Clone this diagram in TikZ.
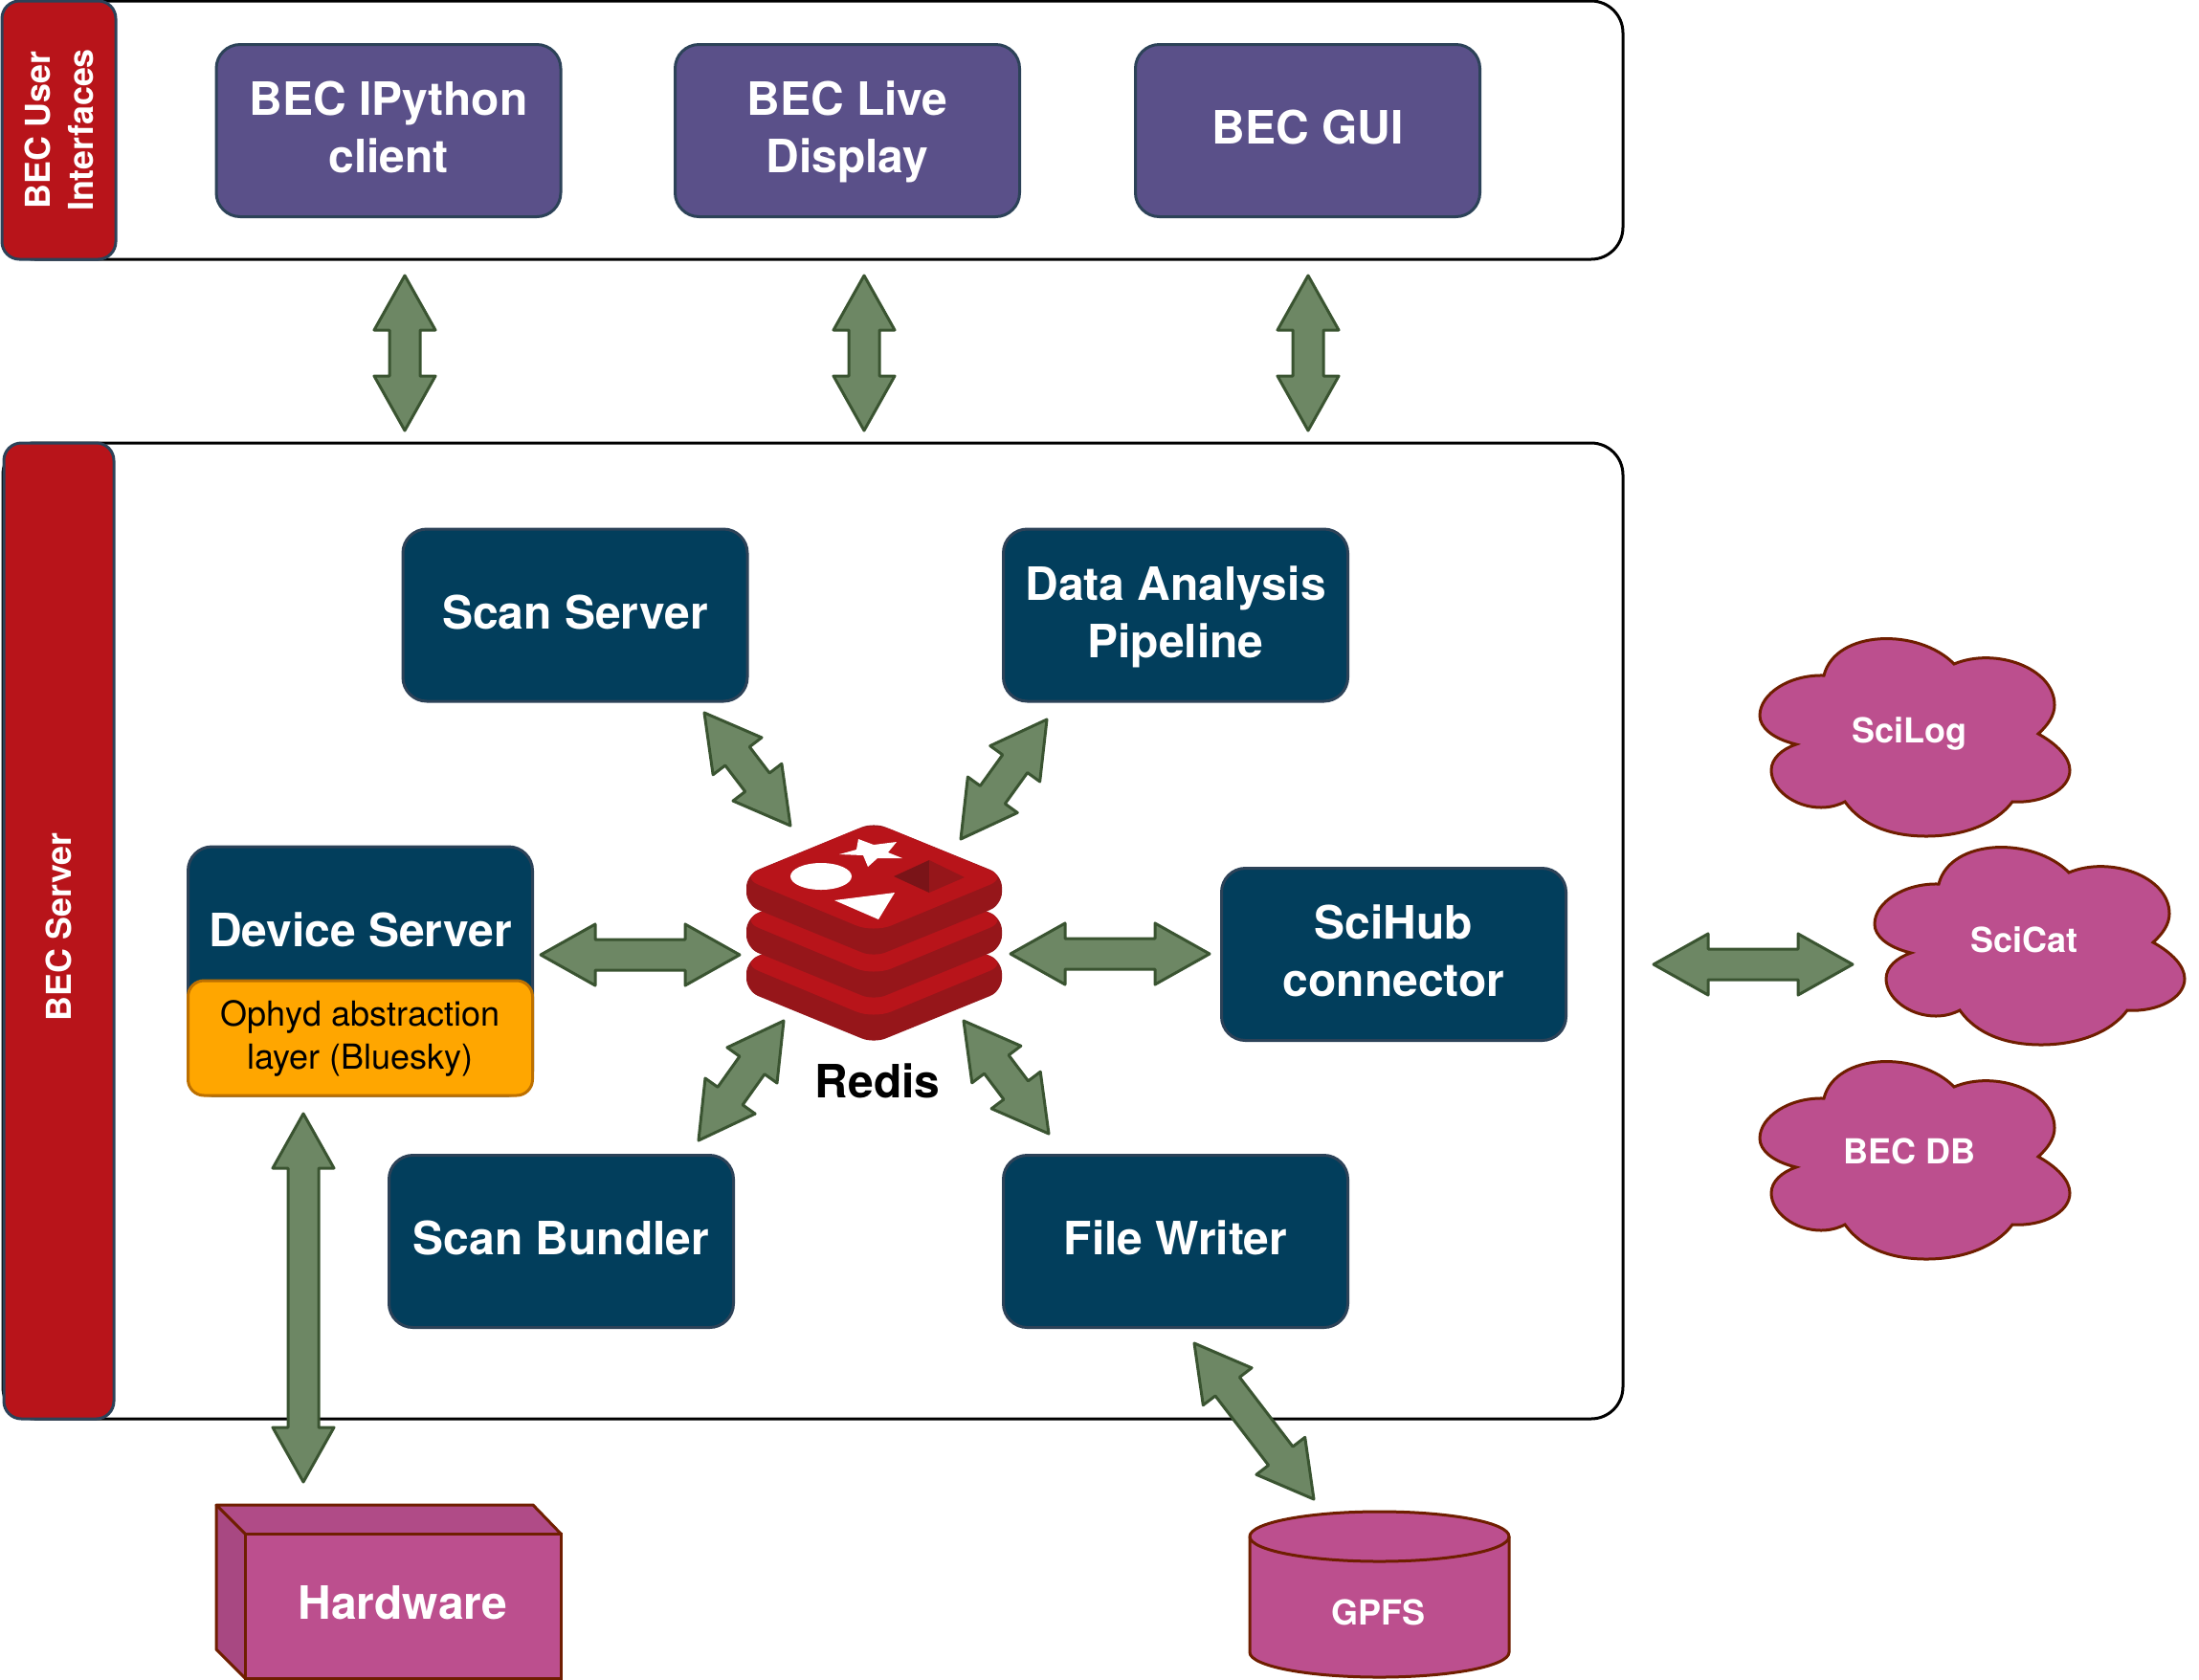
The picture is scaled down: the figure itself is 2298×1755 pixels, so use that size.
\documentclass[tikz,border=0pt]{standalone}
\usepackage{fontspec}
\setmainfont{TeX Gyre Heros}
\usetikzlibrary{calc}
\definecolor{redisred}{RGB}{184,20,26}
\definecolor{redisdark}{RGB}{150,22,26}
\definecolor{redisdeep}{RGB}{122,20,24}
\definecolor{bluebox}{RGB}{2,62,92}
\definecolor{bluerim}{RGB}{44,66,88}
\definecolor{violetbox}{RGB}{90,80,137}
\definecolor{pinkfill}{RGB}{188,79,142}
\definecolor{pinktop}{RGB}{176,75,135}
\definecolor{pinkside}{RGB}{168,72,130}
\definecolor{pinkrim}{RGB}{111,30,0}
\definecolor{arrowfill}{RGB}{109,135,100}
\definecolor{arrowrim}{RGB}{58,84,49}
\definecolor{ophydfill}{RGB}{255,166,0}
\definecolor{ophydrim}{RGB}{189,112,0}
\newcommand{\headlen}{17.1pt}
\newcommand{\headwid}{9.6pt}
\newcommand{\shaftwid}{4.8pt}
\newcommand{\linestrut}{\rule[-4.7pt]{0pt}{18pt}}
\newcommand{\firstrule}{\rule{0pt}{13.1pt}}
\tikzset{
  bigtext/.style={font=\fontsize{14.4}{18}\selectfont\bfseries,align=center,execute at begin node={\linestrut},execute at end node={\linestrut}},
  smalltext/.style={font=\fontsize{10.8}{13.5}\selectfont\bfseries,text=white,align=center},
  panelbox/.style={draw=black,fill=white,line width=0.9pt,rounded corners=10pt,minimum width=507.9pt},
  labelbox/.style={draw=bluerim,fill=redisred,line width=0.9pt,rounded corners=5.5pt,rotate=90,text=white,
    font=\fontsize{10.75}{13.5}\selectfont\bfseries,align=center},
  uibox/.style={bigtext,draw=bluerim,fill=violetbox,text=white,line width=0.9pt,rounded corners=7.5pt,minimum width=108pt,minimum height=54pt},
  srvbox/.style={bigtext,draw=bluerim,fill=bluebox,text=white,line width=0.9pt,rounded corners=7.5pt,minimum width=108pt,minimum height=54pt},
  pinkshape/.style={draw=pinkrim,fill=pinkfill,line width=0.9pt},
  bigarrow/.style={draw=arrowrim,fill=arrowfill,line width=0.9pt,line join=round,
    to path={let \p1=(\tikztostart), \p2=(\tikztotarget), \n1={atan2(\y2-\y1,\x2-\x1)} in
      (\p1) -- ($(\p1)+(\n1:\headlen)+(\n1+90:\headwid)$) -- ($(\p1)+(\n1:\headlen)+(\n1+90:\shaftwid)$)
      -- ($(\p2)-(\n1:\headlen)+(\n1+90:\shaftwid)$) -- ($(\p2)-(\n1:\headlen)+(\n1+90:\headwid)$)
      -- (\p2) -- ($(\p2)-(\n1:\headlen)-(\n1+90:\headwid)$) -- ($(\p2)-(\n1:\headlen)-(\n1+90:\shaftwid)$)
      -- ($(\p1)+(\n1:\headlen)-(\n1+90:\shaftwid)$) -- ($(\p1)+(\n1:\headlen)-(\n1+90:\headwid)$) -- cycle}},
  cloudblob/.pic={
    \draw[pinkshape] (106,66) .. controls (118,18) and (205,16) .. (242,54)
      .. controls (285,36) and (347,58) .. (347,97) .. controls (347,108) and (340,118) .. (330,127)
      .. controls (350,138) and (363,152) .. (363,165) .. controls (363,185) and (335,200) .. (303,198)
      .. controls (285,222) and (250,234) .. (213,234) .. controls (175,234) and (145,222) .. (128,198)
      .. controls (120,202) and (112,204) .. (103,204) .. controls (75,204) and (51,185) .. (51,165)
      .. controls (51,153) and (62,143) .. (77,138) .. controls (52,132) and (39,120) .. (39,108)
      .. controls (39,85) and (70,65) .. (106,66) -- cycle;
  }
}
\begin{document}
\begin{tikzpicture}[x=0.3pt,y=-0.3pt]
\useasboundingbox (0,0) rectangle (2298,1755);
% the two big panels
\node[panelbox,minimum height=81pt] (uipanel) at (849.5,136) {};
\node[panelbox,minimum height=306pt] (srvpanel) at (849.5,973) {};
\node[labelbox,minimum width=81pt,minimum height=35.7pt] (uilabel) at (61.5,136) {BEC User\\Interfaces};
\node[labelbox,minimum width=306pt,minimum height=34.5pt] (srvlabel) at (61.5,973) {\hspace*{2.4pt}BEC Server};
% clients
\node[uibox] (ipython) at (406,136.5) {\firstrule BEC IPython\\client};
\node[uibox] (livedisplay) at (885.5,136.5) {\firstrule BEC Live\\Display};
\node[uibox] (gui) at (1366.5,136.5) {BEC GUI};
% services
\node[srvbox] (scanserver) at (601,643) {Scan Server};
\node[srvbox] (analysis) at (1228.5,643) {\firstrule Data Analysis\\Pipeline};
\node[srvbox] (scihub) at (1456.5,997.5) {\firstrule SciHub\\connector};
\node[srvbox] (bundler) at (586.5,1297.5) {Scan Bundler};
\node[srvbox] (writer) at (1228.5,1297.5) {File Writer};
\node[srvbox,minimum height=78pt] (device) at (376.5,1015) {};
\node[bigtext,text=white] (devicetext) at (376.5,975) {Device Server};
\node[draw=ophydrim,fill=ophydfill,line width=0.9pt,rounded corners=5pt,minimum width=108pt,minimum height=36pt,
  font=\fontsize{10.8}{13.5}\selectfont,align=center] (ophyd) at (376.5,1085) {Ophyd abstraction\\layer (Bluesky)};
% redis logo, bottom layer first
\foreach \dy in {90,45,0}{
  \fill[redisdark,rounded corners=4pt] (913,859.5+\dy) -- (1047,914+\dy) -- (1047,946+\dy) -- (913,1000.5+\dy) -- (780,946+\dy) -- (780,914+\dy) -- cycle;
  \fill[redisred,rounded corners=6pt] (913,859.5+\dy) -- (1053,917+\dy) -- (913,975+\dy) -- (774,917+\dy) -- cycle;
}
\fill[white] (897,877) -- (913,883) -- (937,880) -- (928,891) -- (943,897) -- (917,897) -- (907,906) -- (902,894) -- (877,893) -- (895,888) -- cycle;
\fill[white] (858,916) ellipse [x radius=9.6pt,y radius=4.2pt];
\fill[white] (872,941) -- (935,933) -- (918,961) -- cycle;
\fill[redisdeep] (934,916) -- (971,899) -- (971,933) -- cycle;
\fill[redisdark] (971,899) -- (1008,917) -- (971,933) -- cycle;
\node[bigtext] (redis) at (917,1133.5) {Redis};
% outer services
\pic at (1800,640) {cloudblob};
\pic at (1920,858) {cloudblob};
\pic at (1800,1082) {cloudblob};
\node[smalltext] (scilog) at (1995,767) {SciLog};
\node[smalltext] (scicat) at (2115,982) {SciCat};
\node[smalltext] (becdb) at (1995,1203) {BEC DB};
% hardware box
\fill[pinktop] (226,1573) -- (557,1573) -- (587,1603) -- (256,1603) -- cycle;
\fill[pinkside] (226,1573) -- (256,1603) -- (256,1754) -- (226,1724) -- cycle;
\node[bigtext,draw=pinkrim,fill=pinkfill,text=white,line width=0.9pt,minimum width=99pt,minimum height=45.3pt] (hardware) at (421,1678.5) {Hardware};
\draw[pinkrim,line width=0.9pt,line join=round] (256,1603) -- (226,1573) -- (557,1573) -- (586,1603);
\draw[pinkrim,line width=0.9pt,line join=round] (226,1573) -- (226,1724) -- (256,1754);
% gpfs drum
\draw[pinkshape] (1306,1606) -- (1306,1727) arc[start angle=180,end angle=360,x radius=40.65pt,y radius=7.8pt] -- (1577,1606) arc[start angle=0,end angle=180,x radius=40.65pt,y radius=7.8pt] -- cycle;
\draw[pinkrim,line width=0.9pt] (1306,1606) arc[start angle=180,end angle=360,x radius=40.65pt,y radius=7.8pt];
\node[smalltext] (gpfs) at (1440,1685) {GPFS};
% arrow ends
\coordinate (ipythonend) at (423,288);   \coordinate (ipythonsrv) at (423,450);
\coordinate (liveend) at (903,288);      \coordinate (livesrv) at (903,450);
\coordinate (guiend) at (1367,288);      \coordinate (guisrv) at (1367,450);
\coordinate (scanend) at (736,745);      \coordinate (scanredis) at (826,863);
\coordinate (analysisend) at (1094,752); \coordinate (analysisredis) at (1004,877);
\coordinate (deviceend) at (565,998);    \coordinate (deviceredis) at (773,998);
\coordinate (scihubend) at (1264,997);   \coordinate (scihubredis) at (1056,997);
\coordinate (bundlerend) at (730,1192);  \coordinate (bundlerredis) at (819,1067);
\coordinate (writerend) at (1096,1185);  \coordinate (writerredis) at (1007,1067);
\coordinate (ophydend) at (317,1164);    \coordinate (hardwareend) at (317,1549);
\coordinate (writergpfs) at (1248,1404); \coordinate (gpfsend) at (1373,1567);
\coordinate (srvcloud) at (1728,1008);   \coordinate (cloudend) at (1936,1008);
% arrows
\draw[bigarrow] (ipythonend) to (ipythonsrv);
\draw[bigarrow] (liveend) to (livesrv);
\draw[bigarrow] (guiend) to (guisrv);
\draw[bigarrow] (scanend) to (scanredis);
\draw[bigarrow] (analysisend) to (analysisredis);
\draw[bigarrow] (deviceend) to (deviceredis);
\draw[bigarrow] (scihubend) to (scihubredis);
\draw[bigarrow] (bundlerend) to (bundlerredis);
\draw[bigarrow] (writerend) to (writerredis);
\draw[bigarrow] (ophydend) to (hardwareend);
\draw[bigarrow] (writergpfs) to (gpfsend);
\draw[bigarrow] (srvcloud) to (cloudend);
\end{tikzpicture}
\end{document}
